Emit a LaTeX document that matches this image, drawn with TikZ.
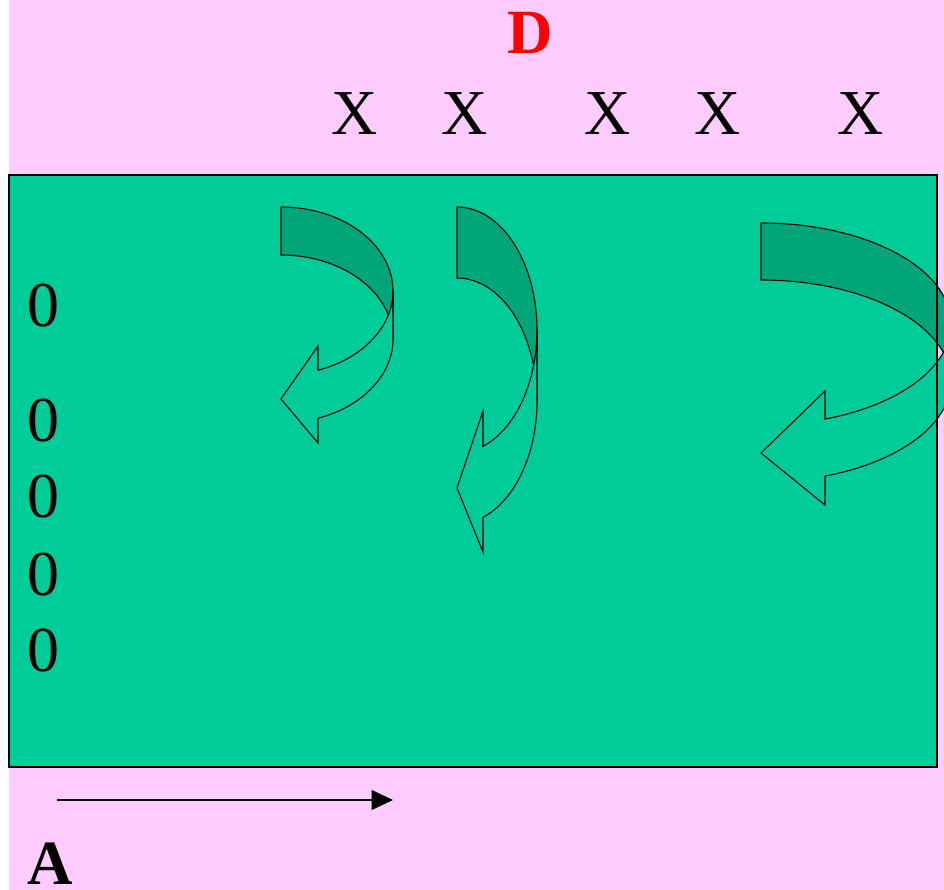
\documentclass[tikz,border=0pt]{standalone}
\usepackage{fontspec}
\setmainfont{Liberation Serif}
\usetikzlibrary{arrows.meta}
\definecolor{bgpink}{RGB}{255,204,255}
\definecolor{boardgreen}{RGB}{0,204,153}
\definecolor{backgreen}{RGB}{0,166,122}
% #1 L, #2 rx, #3 ry, #4 cy1, #5 thickness, #6 head base x, #7 head top y, #8 head bottom y, #9 tip y
\newcommand{\uturnarrow}[9]{%
  \pgfmathsetmacro\thb{acos((#6-#1)/#2)}%
  \pgfmathsetmacro\cyb{#4+#5}%
  \pgfmathsetmacro\yin{#4+#3*sin(\thb)}%
  \filldraw[backband] (#1,#4-#3) arc[start angle=-90,end angle=0,x radius=#2,y radius=#3]
     -- (#1+#2,\cyb) arc[start angle=0,end angle=-90,x radius=#2,y radius=#3] -- cycle;
  \filldraw[frontband] (#1+#2,\cyb) arc[start angle=0,end angle=\thb,x radius=#2,y radius=#3]
     -- (#6,#8) -- (#1,#9) -- (#6,#7) -- (#6,\yin)
     arc[start angle=\thb,end angle=0,x radius=#2,y radius=#3] -- cycle;
}
\begin{document}
\begin{tikzpicture}[x=1pt,y=-1pt,
  backband/.style={fill=backgreen,draw=black,line width=1.1pt,line join=miter},
  frontband/.style={fill=boardgreen,draw=black,line width=1.1pt,line join=miter},
  lbl/.style={inner sep=0pt,anchor=base,font=\fontsize{64}{64}\selectfont},
  blbl/.style={inner sep=0pt,anchor=base,font=\fontsize{63}{63}\selectfont\bfseries}]
\useasboundingbox (0,0) rectangle (944,890);
\fill[white] (0,0) rectangle (944,890);
\fill[bgpink] (9,0) rectangle (944,890);
\fill[boardgreen] (9,175) rectangle (937,767);
% curved arrows
\uturnarrow{281}{112}{84}{291}{48}{318}{346}{443}{399}
\uturnarrow{457}{80}{123}{330}{71}{483}{411}{552}{488}
\uturnarrow{761}{190}{101}{324}{57}{825}{391}{505}{453}
\draw[line width=1.3pt] (9,175) rectangle (937,767);
% labels
\node[blbl,text=red] (D) at (530.5,53.3) {D};
\node[lbl] (x1) at (355,134.3) {X};
\node[lbl] (x2) at (465,134.3) {X};
\node[lbl] (x3) at (608,134.3) {X};
\node[lbl] (x4) at (718,134.3) {X};
\node[lbl] (x5) at (861,134.3) {X};
\node[lbl] (z1) at (43.3,326.5) {0};
\node[lbl] (z2) at (43.3,441) {0};
\node[lbl] (z3) at (43.3,517.5) {0};
\node[lbl] (z4) at (43.3,595) {0};
\node[lbl] (z5) at (43.3,671) {0};
\node[blbl] (A) at (50,884.5) {A};
% axis arrow
\coordinate (a0) at (57,800);
\coordinate (a1) at (393,800);
\draw[line width=1.3pt,-{Triangle[length=21.5pt,width=20pt]}] (a0) -- (a1);
\end{tikzpicture}
\end{document}
